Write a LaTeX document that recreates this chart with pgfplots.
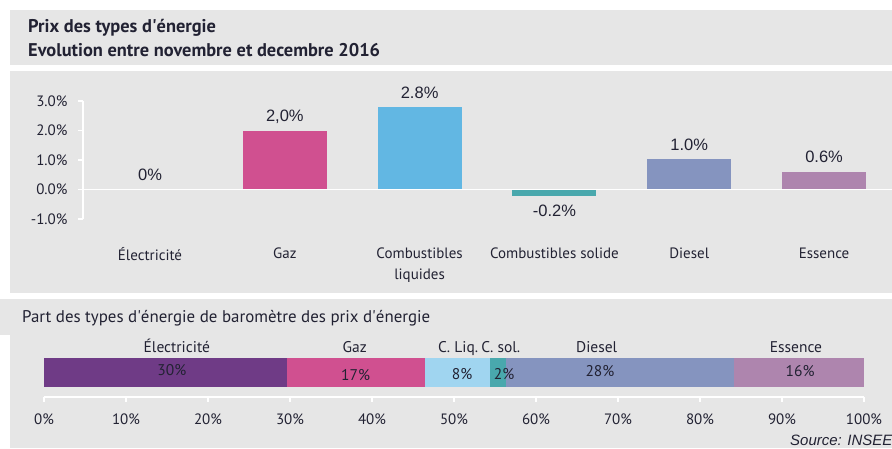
\documentclass[border=0pt]{standalone}
\usepackage{pgfplots}
\pgfplotsset{compat=1.18}
\usepackage{fontspec}
\setmainfont{PT Sans}
\newfontfamily\arialf{Liberation Sans}
\definecolor{panel}{HTML}{E6E6E6}
\definecolor{txt}{HTML}{222233}
\definecolor{cElec}{HTML}{6F3B86}
\definecolor{cGaz}{HTML}{D05090}
\definecolor{cLiq}{HTML}{62B7E3}
\definecolor{cLiqL}{HTML}{A0D5F0}
\definecolor{cSol}{HTML}{49A8AD}
\definecolor{cDie}{HTML}{8594BF}
\definecolor{cEss}{HTML}{AE85AE}
\tikzset{lab/.style={font=\fontsize{15.5}{18}\selectfont, text=txt}}
\begin{document}
\begin{tikzpicture}
\useasboundingbox (0pt,0pt) rectangle (892pt,448pt);
\fill[white] (0pt,0pt) rectangle (892pt,448pt);
\fill[panel] (10pt,438pt) rectangle (892pt,383pt);
\fill[panel] (10pt,377pt) rectangle (892pt,155pt);
\fill[panel] (0pt,149pt) rectangle (892pt,113pt);
\fill[panel] (10pt,113pt) rectangle (892pt,0pt);
\node[anchor=base west, inner sep=0pt, font=\bfseries\fontsize{18.4}{20}\selectfont, text=txt] at (28pt,415pt) {Prix des types d\textquotesingle énergie};
\node[anchor=base west, inner sep=0pt, font=\bfseries\fontsize{18.4}{20}\selectfont, text=txt] at (28pt,391pt) {Evolution entre novembre et decembre 2016};
\node[anchor=base west, inner sep=0pt, font=\fontsize{16.9}{18}\selectfont, text=txt] at (22pt,126pt) {Part des types d\textquotesingle énergie de baromètre des prix d\textquotesingle énergie};
\node[anchor=base west, inner sep=0pt, font=\arialf\itshape\fontsize{15}{16}\selectfont, text=txt] at (790pt,3pt) {Source: INSEE};

\begin{axis}[
  at={(83pt,229pt)}, anchor=south west, scale only axis,
  width=809pt, height=118pt,
  xmin=-0.497, xmax=5.504, ymin=-1, ymax=3,
  ybar, bar width=84pt, clip=false,
  axis lines*=left,
  x axis line style={draw=none},
  y axis line style={white, line width=1.5pt},
  xtick={0,1,2,3,4,5},
  xticklabels={Électricité, Gaz, {Combustibles\\liquides}, Combustibles solide, Diesel, Essence},
  xtick style={draw=none},
  xticklabel style={align=center, font=\fontsize{15}{21}\selectfont, text=txt, yshift=-20pt},
  ytick={-1,0,1,2,3},
  yticklabels={-1.0\%,0.0\%,1.0\%,2.0\%,3.0\%},
  ytick style={white, line width=1.2pt},
  tick align=outside, major tick length=5pt,
  yticklabel style={font=\fontsize{15}{18}\selectfont, text=txt, xshift=-7pt},
  every node near coord/.append style={font=\arialf\fontsize{16.5}{18}\selectfont, text=txt, inner sep=0pt, outer sep=9pt, text depth=0pt},
]
\addplot[draw=none, fill=none, bar shift=0pt, nodes near coords={0\%}] coordinates {(0,0)};
\addplot[draw=none, fill=cGaz, bar shift=0pt, nodes near coords={2,0\%}] coordinates {(1,2.0)};
\addplot[draw=none, fill=cLiq, bar shift=0pt, nodes near coords={2.8\%}] coordinates {(2,2.78)};
\addplot[draw=none, fill=cSol, bar shift=0pt, nodes near coords={-0.2\%}] coordinates {(3,-0.23)};
\addplot[draw=none, fill=cDie, bar shift=0pt, nodes near coords={1.0\%}] coordinates {(4,1.02)};
\addplot[draw=none, fill=cEss, bar shift=0pt, nodes near coords={0.6\%}] coordinates {(5,0.61)};
\draw[white, line width=1.5pt] (axis cs:-0.497,0) -- (axis cs:5.504,0);
\end{axis}

\begin{axis}[
  at={(44pt,51pt)}, anchor=south west, scale only axis,
  width=820pt, height=49pt,
  xmin=0, xmax=100, ymin=-1, ymax=1,
  xbar stacked, bar width=29pt, clip=false,
  axis x line*=bottom, axis y line=none,
  x axis line style={white, line width=1.5pt},
  xtick={0,10,20,30,40,50,60,70,80,90,100},
  xticklabels={0\%,10\%,20\%,30\%,40\%,50\%,60\%,70\%,80\%,90\%,100\%},
  xtick style={white, line width=1.2pt},
  tick align=outside, major tick length=5pt,
  xticklabel style={font=\fontsize{15}{18}\selectfont, text=txt, yshift=-8pt},
]
\addplot[fill=cElec, draw=none] coordinates {(29.6,0)};
\addplot[fill=cGaz, draw=none] coordinates {(16.9,0)};
\addplot[fill=cLiqL, draw=none] coordinates {(7.9,0)};
\addplot[fill=cSol, draw=none] coordinates {(1.9,0)};
\addplot[fill=cDie, draw=none] coordinates {(27.8,0)};
\addplot[fill=cEss, draw=none] coordinates {(15.9,0)};
\coordinate (s1) at (axis cs:15.6,0.08);
\coordinate (s2) at (axis cs:38,-0.1);
\coordinate (s3) at (axis cs:51,-0.05);
\coordinate (s4) at (axis cs:56.1,-0.05);
\coordinate (s5) at (axis cs:67.8,0.05);
\coordinate (s6) at (axis cs:92.2,0.05);
\node[lab, anchor=base] at (axis cs:16.2,0.8) {Électricité};
\node[lab, anchor=base] at (axis cs:37.9,0.8) {Gaz};
\node[lab, anchor=base] at (axis cs:50.5,0.8) {C. Liq.};
\node[lab, anchor=base] at (axis cs:55.7,0.8) {C. sol.};
\node[lab, anchor=base] at (axis cs:67.4,0.8) {Diesel};
\node[lab, anchor=base] at (axis cs:91.7,0.8) {Essence};
\end{axis}
\node[lab] at (s1) {30\%};
\node[lab] at (s2) {17\%};
\node[lab] at (s3) {8\%};
\node[lab] at (s4) {2\%};
\node[lab] at (s5) {28\%};
\node[lab] at (s6) {16\%};
\end{tikzpicture}
\end{document}
